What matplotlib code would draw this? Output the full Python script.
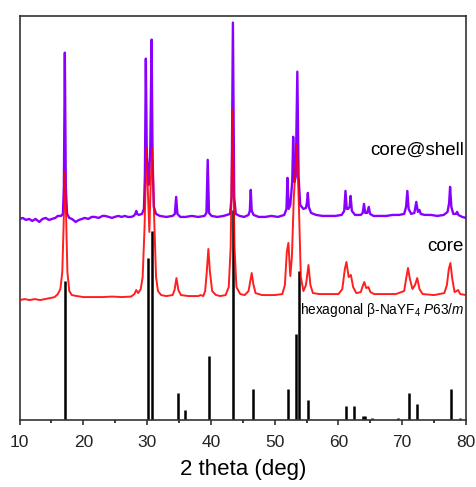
"""XRD patterns: core, core@shell and the hexagonal NaYF4 reference sticks."""
import matplotlib
matplotlib.use("Agg")
import matplotlib.pyplot as plt
import numpy as np

plt.rcParams["font.family"] = ["Liberation Sans", "DejaVu Sans"]
plt.rcParams["mathtext.fontset"] = "custom"
plt.rcParams["mathtext.rm"] = "Liberation Sans"
plt.rcParams["mathtext.it"] = "Liberation Sans:italic"

# --- reference pattern (hexagonal beta-NaYF4, P63/m), relative intensity % ---
ref_2theta = [17.2, 30.1, 30.8, 34.8, 35.9, 39.7, 43.5, 46.6, 52.1, 53.3, 53.8,
              55.3, 61.2, 62.4, 63.9, 64.2, 65.3, 69.4, 71.0, 72.3, 77.6, 79.1]
ref_int = [66, 77, 90, 13, 5, 30.5, 100, 15, 15, 41, 71,
           9.5, 7, 7, 2, 2, 1.2, 1, 13, 7.6, 15, 1]

# --- core pattern (intensity above its own baseline, a.u.) ---
core_2theta = [10.0, 10.8, 11.6, 12.4, 13.2, 14.0, 14.8, 15.5, 16.0, 16.4, 16.7, 16.9,
               17.1, 17.3, 17.5, 17.8, 18.2, 19.0, 20.0, 21.5, 23.0, 24.5, 26.0, 27.5,
               28.0, 28.3, 28.6, 29.0, 29.3, 29.6, 29.9, 30.15, 30.35, 30.55, 30.8, 31.1,
               31.4, 31.7, 32.2, 33.0, 34.0, 34.3, 34.6, 34.9, 35.3, 36.5, 38.0, 38.4,
               38.8, 39.1, 39.35, 39.6, 39.85, 40.2, 40.8, 41.5, 42.3, 42.8, 43.1, 43.4,
               43.7, 44.0, 44.6, 45.3, 45.9, 46.15, 46.4, 46.65, 47.0, 48.0, 50.0, 51.2,
               51.6, 51.9, 52.15, 52.45, 52.7, 53.0, 53.5, 53.8, 54.1, 54.5, 54.9, 55.3,
               55.6, 56.0, 57.0, 58.5, 60.0, 60.6, 61.0, 61.25, 61.6, 61.95, 62.3, 62.8,
               63.5, 63.85, 64.05, 64.35, 64.7, 65.0, 65.6, 67.0, 69.0, 70.3, 70.6, 70.9,
               71.2, 71.6, 72.0, 72.35, 72.7, 73.2, 75.0, 76.6, 77.0, 77.3, 77.55, 77.85,
               78.2, 78.5, 78.75, 79.1, 80.0]
core_int = [-3, -2, -3, -2, -3, -2, -1, 0, 3, 8, 25, 70,
            125, 80, 25, 6, 2, 1, 0, 0, 0, 0.5, 0, 0.5,
            3, 7, 4, 8, 20, 70, 148, 100, 65, 110, 148, 80,
            20, 6, 2, 1, 2, 7, 19, 7, 2, 1, 1, 2,
            1, 6, 25, 48, 25, 6, 2, 1, 2, 10, 50, 187,
            50, 10, 3, 2, 6, 15, 24, 13, 4, 2, 2, 3,
            12, 45, 54, 21, 40, 100, 152, 90, 20, 6, 12, 32,
            12, 4, 3, 3, 3, 8, 28, 35, 20, 22, 10, 4,
            5, 12, 15, 9, 10, 5, 3, 3, 3, 6, 18, 29,
            18, 8, 12, 19, 8, 3, 2, 4, 12, 28, 34, 18,
            5, 6, 7, 3, 2]

# --- core@shell pattern (intensity above its own baseline, a.u.) ---
shell_2theta = [10.0, 10.5, 11.0, 11.5, 12.0, 12.5, 13.1, 13.6, 14.1, 14.6, 15.1, 15.6,
                16.0, 16.5, 16.8, 16.95, 17.1, 17.25, 17.45, 17.8, 18.2, 18.8, 19.3, 19.8,
                20.2, 20.8, 21.3, 21.8, 22.4, 23.0, 23.4, 24.0, 24.5, 24.9, 25.5, 26.0,
                26.5, 27.0, 27.5, 27.9, 28.15, 28.3, 28.45, 28.7, 29.2, 29.5, 29.65, 29.8,
                29.95, 30.25, 30.5, 30.7, 30.85, 31.05, 31.4, 32.0, 33.0, 34.0, 34.35, 34.55,
                34.75, 35.2, 36.0, 37.0, 38.0, 39.0, 39.3, 39.5, 39.7, 40.1, 41.0, 42.0,
                43.0, 43.25, 43.45, 43.65, 43.9, 44.5, 45.2, 45.9, 46.1, 46.25, 46.4, 46.7,
                47.5, 48.5, 49.5, 50.5, 51.5, 51.85, 52.0, 52.2, 52.45, 52.75, 52.9, 53.1,
                53.3, 53.55, 53.75, 54.0, 54.5, 54.9, 55.05, 55.2, 55.35, 55.7, 56.5, 57.5,
                58.5, 59.5, 60.5, 60.9, 61.1, 61.3, 61.5, 61.75, 61.9, 62.1, 62.6, 63.5,
                63.8, 64.0, 64.2, 64.5, 64.75, 64.95, 65.5, 66.5, 67.5, 68.5, 69.5, 70.3,
                70.6, 70.8, 71.0, 71.4, 71.9, 72.2, 72.45, 72.7, 72.9, 73.5, 74.5, 75.5,
                76.5, 77.1, 77.35, 77.5, 77.7, 78.0, 78.4, 78.6, 78.8, 79.4, 80.0]
shell_int = [-2, -1, -3, -2, -4, -2, -5, -2, -1, -3, -2, -1,
             1, 1, 3, 30, 164, 30, 3, -1, -2, -5, -3, -2,
             -1, -2, 0, 0, -1, 1, 1, 0, -1, 0, 1, 0,
             1, 0, 0, 1, 3, 6, 3, 2, 3, 8, 40, 158,
             60, 32, 70, 177, 60, 10, 3, 1, 0, 1, 3, 20,
             3, 0, 0, 1, 0, 1, 4, 57, 4, 1, 0, 1,
             3, 20, 194, 20, 3, 1, 0, 2, 6, 27, 6, 2,
             0, 0, 1, 0, 2, 8, 39, 8, 12, 35, 80, 35,
             40, 145, 40, 12, 8, 9, 14, 24, 10, 4, 2, 1,
             1, 1, 2, 6, 26, 8, 8, 10, 21, 6, 2, 2,
             4, 13, 4, 4, 10, 3, 1, 1, 1, 2, 2, 3,
             10, 26, 8, 3, 4, 15, 5, 7, 3, 2, 2, 1,
             2, 5, 14, 30, 10, 3, 3, 5, 2, 0, -1]

fig = plt.figure(figsize=(4.77, 4.87), dpi=100)
ax = fig.add_axes([0.041, 0.137, 0.936, 0.831])

# stacked layout: sticks at the bottom, core and core@shell offset upwards
stick_scale = 2.1
core_offset = 123
shell_offset = 203

ax.vlines(ref_2theta, 0, np.array(ref_int) * stick_scale, color="black",
          linewidth=1.8, zorder=1)
ax.plot(shell_2theta, np.array(shell_int) + shell_offset, color="#8a00ff",
        linewidth=1.7, zorder=2)
ax.plot(core_2theta, np.array(core_int) + core_offset, color="#ff0000",
        linewidth=1.4, alpha=0.88, zorder=3)

ax.text(79.7, 270, "core@shell", ha="right", va="center", fontsize=13.5)
ax.text(79.7, 173, "core", ha="right", va="center", fontsize=13.5)
ax.text(79.7, 110, r"hexagonal β-NaYF$_4$ $\mathit{P63/m}$", ha="right",
        va="center", fontsize=9.8)

ax.set_xlim(10, 80)
ax.set_ylim(0, 404)
ax.set_xticks(np.arange(10, 81, 10))
ax.set_xticks(np.arange(15, 80, 10), minor=True)
ax.set_yticks([])
ax.tick_params(axis="x", which="major", direction="out", length=3.8, width=1.1,
               labelsize=12.5, pad=6.5, colors="#222222")
ax.tick_params(axis="x", which="minor", direction="out", length=2.2, width=1.1)
ax.set_xlabel("2 theta (deg)", fontsize=16, labelpad=7)
for spine in ax.spines.values():
    spine.set_linewidth(1.2)
    spine.set_color("#333333")

fig.savefig("out.png", dpi=100)
plt.close(fig)
